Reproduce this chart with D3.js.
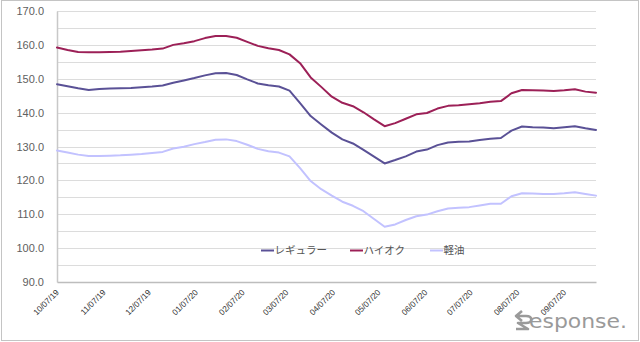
<!DOCTYPE html>
<html>
<head>
<meta charset="utf-8">
<script src="https://cdn.jsdelivr.net/npm/d3@7"></script>
<style>
  html, body { margin: 0; padding: 0; background: #fff; }
  svg { display: block; }
</style>
</head>
<body>
<svg id="chart" width="640" height="342"></svg>
<script>
// Weekly national average retail prices (yen/L), Mondays from 2019-10-07
const startDate = "2019-10-07";
const weeks = 52;

const seriesNames = ["レギュラー", "ハイオク", "軽油"];

const regular = [
  148.4, 147.8, 147.2, 146.7, 147.0, 147.1, 147.2, 147.3, 147.5, 147.7,
  148.0, 148.8, 149.5, 150.2, 151.0, 151.6, 151.7, 151.1, 149.8, 148.6,
  148.1, 147.7, 146.5, 142.8, 139.0, 136.5, 134.1, 132.1, 130.9, 129.0,
  127.0, 125.0, 126.0, 127.1, 128.5, 129.1, 130.4, 131.2, 131.4, 131.5,
  131.9, 132.3, 132.5, 134.7, 135.9, 135.7, 135.6, 135.4, 135.7, 136.0,
  135.4, 134.9
];

const highOctane = [
  159.2, 158.5, 157.9, 157.8, 157.8, 157.9, 158.0, 158.2, 158.4, 158.6,
  158.9, 160.0, 160.5, 161.1, 162.0, 162.6, 162.6, 162.1, 160.9, 159.7,
  159.0, 158.5, 157.2, 154.6, 150.4, 147.6, 144.7, 142.9, 141.9, 140.1,
  138.0, 136.0, 136.9, 138.2, 139.5, 139.9, 141.2, 142.0, 142.2, 142.5,
  142.8, 143.2, 143.4, 145.7, 146.7, 146.6, 146.5, 146.4, 146.6, 146.9,
  146.2, 145.9
];

const diesel = [
  128.8, 128.2, 127.6, 127.2, 127.2, 127.3, 127.4, 127.6, 127.8, 128.1,
  128.4, 129.4, 129.9, 130.7, 131.3, 132.0, 132.1, 131.6, 130.5, 129.3,
  128.6, 128.2, 127.1, 123.6, 119.8, 117.4, 115.5, 113.7, 112.5, 110.9,
  108.6, 106.3, 107.0, 108.3, 109.4, 109.9, 110.9, 111.7, 111.9, 112.1,
  112.6, 113.1, 113.1, 115.3, 116.2, 116.1, 116.0, 116.0, 116.2, 116.5,
  116.0, 115.5
];

const seriesColors = ["#5a5196", "#9c2057", "#c2c2ff"];

// Monthly tick labels (MM/DD/YY)
const tickLabels = [
  "10/07/19", "11/07/19", "12/07/19", "01/07/20", "02/07/20", "03/07/20",
  "04/07/20", "05/07/20", "06/07/20", "07/07/20", "08/07/20", "09/07/20"
];

const yTicks = [90, 100, 110, 120, 130, 140, 150, 160, 170];

const parseDate = d3.timeParse("%Y-%m-%d");
const parseTick = d3.timeParse("%m/%d/%y");
const t0 = parseDate(startDate);
const dates = d3.range(weeks).map(i => d3.timeDay.offset(t0, i * 7));

const svg = d3.select("#chart");
const W = 640, H = 342;
const plot = { left: 57, right: 596, top: 11, bottom: 282 };

// outer frame
svg.append("rect")
  .attr("x", 1.5).attr("y", 0.5)
  .attr("width", W - 3).attr("height", H - 2)
  .attr("fill", "#fff").attr("stroke", "#c4c4c4").attr("stroke-width", 1);

const x = d3.scaleTime()
  .domain([dates[0], dates[dates.length - 1]])
  .range([plot.left, plot.right]);

const y = d3.scaleLinear()
  .domain([90, 170])
  .range([plot.bottom, plot.top]);

// horizontal gridlines every 5
const gridVals = d3.range(90, 170.001, 5);
svg.append("g")
  .selectAll("line")
  .data(gridVals.filter(v => v !== 90))
  .join("line")
  .attr("x1", plot.left).attr("x2", plot.right)
  .attr("y1", d => Math.round(y(d)) + 0.5).attr("y2", d => Math.round(y(d)) + 0.5)
  .attr("stroke", "#dcdcdc").attr("stroke-width", 1.2);

// y axis labels
const yAxis = d3.axisLeft(y)
  .tickValues(yTicks)
  .tickFormat(d3.format(".1f"))
  .tickSize(0)
  .tickPadding(13);
const gy = svg.append("g")
  .attr("transform", `translate(${plot.left},0)`)
  .call(yAxis);
gy.select(".domain").attr("stroke", "#c8c8c8").attr("stroke-width", 1.5);
gy.selectAll("text")
  .attr("font-family", "Liberation Sans, Arial, sans-serif")
  .attr("font-size", 11)
  .attr("fill", "#606060");

// x axis
const xAxis = d3.axisBottom(x)
  .tickValues(tickLabels.map(parseTick))
  .tickFormat(d3.timeFormat("%m/%d/%y"))
  .tickSize(0)
  .tickPadding(0);
const gx = svg.append("g")
  .attr("transform", `translate(0,${plot.bottom})`)
  .call(xAxis);
gx.select(".domain").attr("stroke", "#bdbdbd").attr("stroke-width", 1.5);
gx.selectAll("text")
  .attr("font-family", "Liberation Sans, Arial, sans-serif")
  .attr("font-size", 8.3)
  .attr("fill", "#333")
  .attr("text-anchor", "end")
  .attr("dy", 0)
  .attr("y", 0)
  .attr("transform", "translate(2,11) rotate(-45)");

// lines
const line = d3.line()
  .x((d, i) => x(dates[i]))
  .y(d => y(d));

const allSeries = [regular, highOctane, diesel];
svg.append("g")
  .selectAll("path")
  .data(allSeries)
  .join("path")
  .attr("d", d => line(d))
  .attr("fill", "none")
  .attr("stroke", (d, i) => seriesColors[i])
  .attr("stroke-width", 2)
  .attr("stroke-linejoin", "round")
  .attr("stroke-linecap", "round");

// legend
const legendX = [261, 350, 430];
const lg = svg.append("g").attr("transform", "translate(0,250)");
seriesNames.forEach((name, i) => {
  const g = lg.append("g").attr("transform", `translate(${legendX[i]},0)`);
  g.append("line")
    .attr("x1", 0).attr("x2", 13).attr("y1", 0.5).attr("y2", 0.5)
    .attr("stroke", seriesColors[i]).attr("stroke-width", 2);
  g.append("text")
    .attr("x", 13.5).attr("y", 0).attr("dy", "0.36em")
    .attr("font-family", "Noto Sans CJK JP, sans-serif")
    .attr("font-size", 10.5)
    .attr("fill", "#555")
    .text(name);
});

// site mark
const mark = svg.append("g").attr("transform", "translate(514,309)").attr("fill", "none");
mark.append("path")
  .attr("d", "M8,2 L2,7 L8,12 M2,7 L12,7 C19,7 19,14 12,14 L4,14 L14,20 L2,20")
  .attr("stroke", "#9a9a9a").attr("stroke-width", 2.6)
  .attr("stroke-linejoin", "round");
svg.append("text")
  .attr("x", 529).attr("y", 328)
  .attr("font-family", "DejaVu Sans, sans-serif")
  .attr("font-size", 20)
  .attr("textLength", 98)
  .attr("lengthAdjust", "spacingAndGlyphs")
  .attr("fill", "#9a9a9a")
  .text("esponse.");
</script>
</body>
</html>
